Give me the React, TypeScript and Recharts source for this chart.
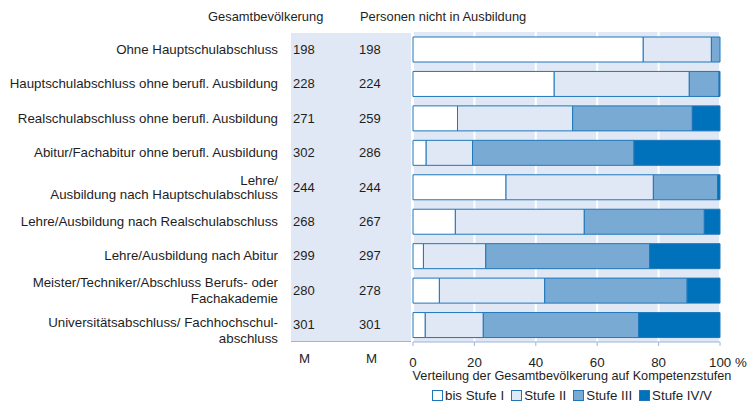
import React from "react"
import { BarChart, Bar, XAxis, YAxis, CartesianGrid, Legend } from "recharts"

const categories = [
  "Ohne Hauptschulabschluss",
  "Hauptschulabschluss ohne berufl. Ausbildung",
  "Realschulabschluss ohne berufl. Ausbildung",
  "Abitur/Fachabitur ohne berufl. Ausbildung",
  "Lehre/\nAusbildung nach Hauptschulabschluss",
  "Lehre/Ausbildung nach Realschulabschluss",
  "Lehre/Ausbildung nach Abitur",
  "Meister/Techniker/Abschluss Berufs- oder\nFachakademie",
  "Universitätsabschluss/ Fachhochschul-\nabschluss",
]

const gesamtM = [198, 228, 271, 302, 244, 268, 299, 280, 301]
const nichtInAusbildungM = [198, 224, 259, 286, 244, 267, 297, 278, 301]

const stufe1 = [75, 46, 14.5, 4.3, 30.3, 13.8, 3.4, 8.6, 4]
const stufe2 = [22.2, 44, 37.5, 15.1, 48, 42, 20.3, 34.3, 18.9]
const stufe3 = [2.8, 9.7, 39, 52.6, 20.9, 39.1, 53.4, 46.4, 50.6]
const stufe4 = [0, 0.3, 9, 28, 0.8, 5.1, 22.9, 10.7, 26.5]

const xTicks = [0, 20, 40, 60, 80, 100]

const SERIES = [
  { key: "s1", label: "bis Stufe I", color: "#ffffff" },
  { key: "s2", label: "Stufe II", color: "#e1e8f5" },
  { key: "s3", label: "Stufe III", color: "#79aad4" },
  { key: "s4", label: "Stufe IV/V", color: "#0072bb" },
]

const FONT = '"Liberation Sans", Arial, sans-serif'
const TEXT = "#1e1e1e"
const EDGE = "#1f77bb"
const FS = 13.3

const data = categories.map((name, i) => ({
  name,
  s1: stufe1[i],
  s2: stufe2[i],
  s3: stufe3[i],
  s4: stufe4[i],
}))

// line offsets of the wrapped labels, as they sit in the original
const lineOffsets: Record<number, number[]> = {
  4: [-6.5, 7.5],
  7: [-8, 8],
  8: [-2, 13.5],
}

function CategoryTick({ y, payload, index }: any) {
  const lines = String(payload.value).split("\n")
  const offsets = lines.length === 1 ? [0] : lineOffsets[index] || [-8, 8]
  return (
    <g>
      {lines.map((line, i) => (
        <text key={i} x={278} y={y + offsets[i]} textAnchor="end" dominantBaseline="central" fontSize={FS} fill={TEXT} fontFamily={FONT}>
          {line}
        </text>
      ))}
      <text x={293} y={y} dominantBaseline="central" fontSize={13} fill={TEXT} fontFamily={FONT}>
        {gesamtM[index]}
      </text>
      <text x={359} y={y} dominantBaseline="central" fontSize={13} fill={TEXT} fontFamily={FONT}>
        {nichtInAusbildungM[index]}
      </text>
    </g>
  )
}

function PercentTick({ x, y, payload }: any) {
  const v = payload.value
  return (
    <text
      x={v === 100 ? x - 11 : x}
      y={y + 19}
      textAnchor={v === 100 ? "start" : "middle"}
      fontSize={FS}
      fill={TEXT}
      fontFamily={FONT}
    >
      {v === 100 ? "100 %" : v}
    </text>
  )
}

function LegendContent() {
  return (
    <div style={{ display: "flex", justifyContent: "center", gap: 7, fontFamily: FONT, fontSize: FS, color: TEXT }}>
      {SERIES.map((s) => (
        <span key={s.key} style={{ display: "flex", alignItems: "center", gap: 2 }}>
          <span style={{ display: "inline-block", width: 9, height: 9, background: s.color, border: `1px solid ${EDGE}` }} />
          {s.label}
        </span>
      ))}
    </div>
  )
}

export default function App() {
  return (
    <div style={{ position: "absolute", left: 0, top: 0, width: 747, height: 405, background: "#fff", fontFamily: FONT }}>
      {/* left panel with the mean values */}
      <div style={{ position: "absolute", left: 291, top: 33, width: 120, height: 308, background: "#e1e8f5", borderBottom: "1px solid #9db3db" }} />
      <div style={{ position: "absolute", left: 208, top: 9, fontSize: 12.9, color: TEXT }}>Gesamtbevölkerung</div>
      <div style={{ position: "absolute", left: 360, top: 9, fontSize: 12.9, color: TEXT }}>Personen nicht in Ausbildung</div>
      <div style={{ position: "absolute", left: 299, top: 351, fontSize: FS, color: TEXT }}>M</div>
      <div style={{ position: "absolute", left: 366, top: 351, fontSize: FS, color: TEXT }}>M</div>
      <div style={{ position: "absolute", left: 412, top: 369, width: 320, textAlign: "center", fontSize: 12.7, color: TEXT, whiteSpace: "nowrap" }}>
        Verteilung der Gesamtbevölkerung auf Kompetenzstufen
      </div>
      <div style={{ position: "absolute", left: 0, top: 0 }}>
        <BarChart
          width={747}
          height={405}
          data={data}
          layout="vertical"
          margin={{ top: 32, right: 27, bottom: 25, left: 0 }}
          barSize={25}
        >
          <CartesianGrid horizontal={false} vertical={true} stroke="#ffffff" strokeWidth={2} fill="#e1e8f5" />
          <XAxis
            type="number"
            domain={[0, 100]}
            ticks={xTicks}
            interval={0}
            height={38}
            axisLine={{ stroke: "#9db3db" }}
            tickLine={{ stroke: "#9db3db" }}
            tickSize={4}
            tick={<PercentTick />}
          />
          <YAxis type="category" dataKey="name" width={413} axisLine={false} tickLine={false} tick={<CategoryTick />} interval={0} />
          <Legend
            layout="horizontal"
            verticalAlign="middle"
            align="center"
            content={<LegendContent />}
            wrapperStyle={{ position: "absolute", top: 388, left: 397, width: 350 }}
          />
          {SERIES.map((s) => (
            <Bar key={s.key} dataKey={s.key} stackId="a" fill={s.color} stroke={EDGE} strokeWidth={1} isAnimationActive={false} />
          ))}
        </BarChart>
      </div>
    </div>
  )
}
